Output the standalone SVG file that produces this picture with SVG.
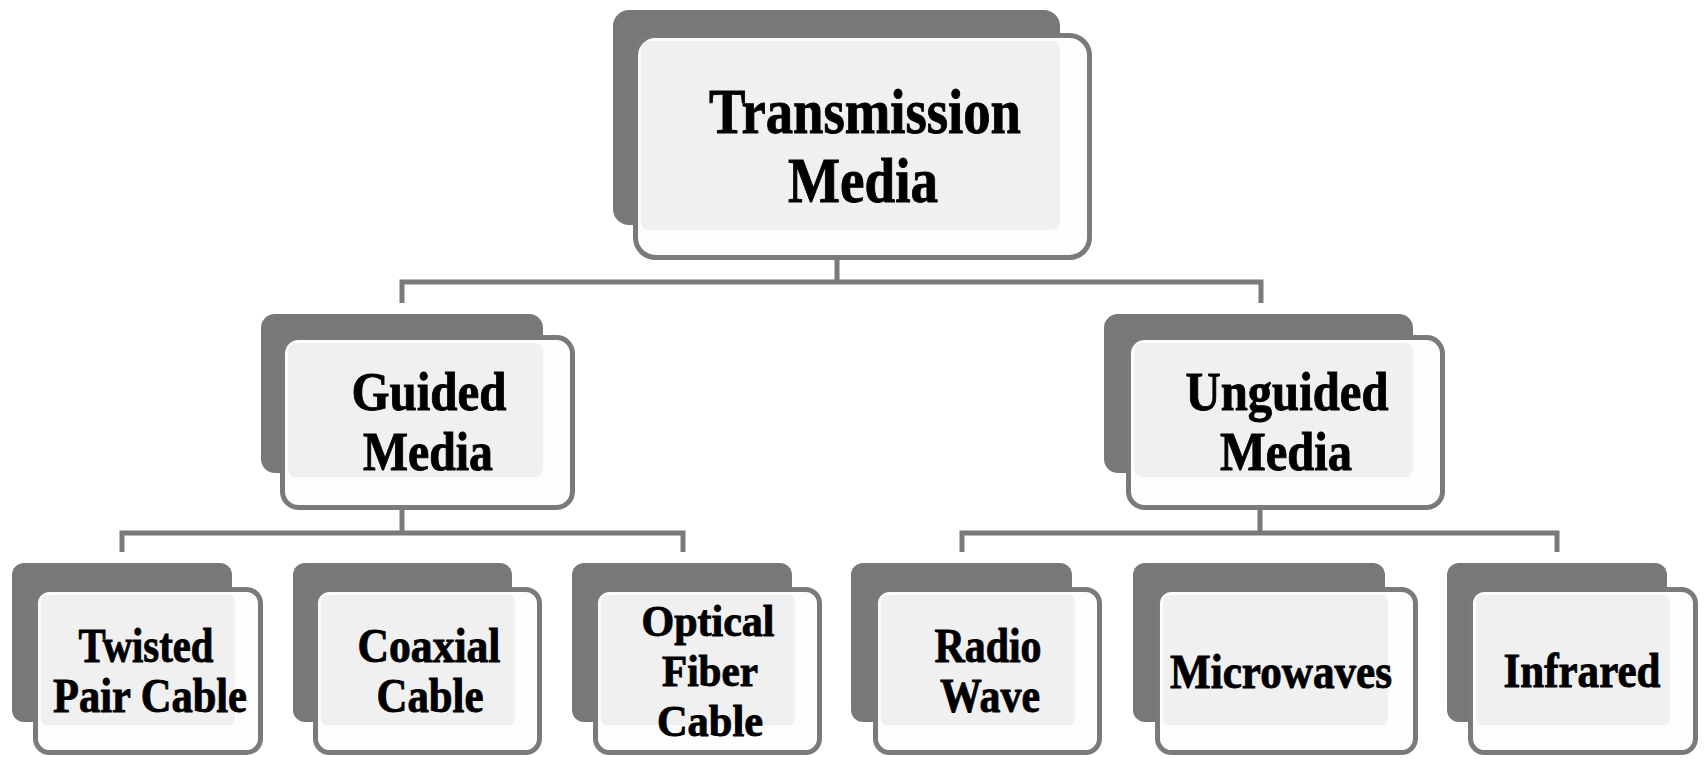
<svg xmlns="http://www.w3.org/2000/svg" width="1704" height="759" viewBox="0 0 1704 759">
<style>
.shadow{fill:#787878}
.front{fill:#fdfdfd;stroke:#7a7a7a;stroke-width:5}
.inner{fill:#f0f0f0}
.conn{fill:none;stroke:#7a7a7a;stroke-width:5}
.lbl{font-family:"Liberation Serif","Times New Roman",serif;font-weight:bold;fill:#000;stroke:#000;stroke-width:0.9;text-anchor:middle}
.l1{font-size:63px}
.l2{font-size:54px}
.l3{font-size:49px}
.l4{font-size:44px}
</style>
<rect width="1704" height="759" fill="#ffffff"/>
<g id="connectors">
<path class="conn" d="M837 259 V282 M402 303 V282 H1261 V303"/>
<path class="conn" d="M402 509 V533 M122 552 V533 H683 V552"/>
<path class="conn" d="M1260 509 V533 M962 552 V533 H1557 V552"/>
</g>
<g id="transmission-media">
<rect class="shadow" x="613" y="10" width="447" height="215" rx="16"/>
<rect class="front" x="635.5" y="35.5" width="454" height="222" rx="20"/>
<rect class="inner" x="641" y="41" width="419" height="189" rx="8"/>
<text class="lbl l1" x="865" y="133" textLength="312" lengthAdjust="spacingAndGlyphs">Transmission</text>
<text class="lbl l1" x="863" y="202" textLength="150" lengthAdjust="spacingAndGlyphs">Media</text>
</g>
<g id="guided-media">
<rect class="shadow" x="261" y="314" width="282" height="159" rx="14"/>
<rect class="front" x="282.5" y="337.5" width="290" height="170" rx="16"/>
<rect class="inner" x="288" y="343" width="255" height="134" rx="8"/>
<text class="lbl l2" x="429" y="410" textLength="155" lengthAdjust="spacingAndGlyphs">Guided</text>
<text class="lbl l2" x="428" y="470" textLength="130" lengthAdjust="spacingAndGlyphs">Media</text>
</g>
<g id="unguided-media">
<rect class="shadow" x="1104" y="314" width="309" height="159" rx="14"/>
<rect class="front" x="1128.5" y="337.5" width="314" height="170" rx="16"/>
<rect class="inner" x="1134" y="343" width="279" height="134" rx="8"/>
<text class="lbl l2" x="1287" y="410" textLength="203" lengthAdjust="spacingAndGlyphs">Unguided</text>
<text class="lbl l2" x="1286" y="470" textLength="132" lengthAdjust="spacingAndGlyphs">Media</text>
</g>
<g id="twisted-pair-cable">
<rect class="shadow" x="12" y="563" width="220" height="159" rx="12"/>
<rect class="front" x="35.5" y="589.5" width="225" height="163" rx="14"/>
<rect class="inner" x="41" y="595" width="194" height="130" rx="6"/>
<text class="lbl l3" x="146" y="662" textLength="135" lengthAdjust="spacingAndGlyphs">Twisted</text>
<text class="lbl l3" x="150" y="712" textLength="194" lengthAdjust="spacingAndGlyphs">Pair Cable</text>
</g>
<g id="coaxial-cable">
<rect class="shadow" x="293" y="563" width="219" height="159" rx="12"/>
<rect class="front" x="315.5" y="589.5" width="224" height="163" rx="14"/>
<rect class="inner" x="321" y="595" width="194" height="130" rx="6"/>
<text class="lbl l3" x="429" y="662" textLength="143" lengthAdjust="spacingAndGlyphs">Coaxial</text>
<text class="lbl l3" x="430" y="712" textLength="107" lengthAdjust="spacingAndGlyphs">Cable</text>
</g>
<g id="optical-fiber-cable">
<rect class="shadow" x="572" y="563" width="220" height="159" rx="12"/>
<rect class="front" x="595.5" y="589.5" width="224" height="163" rx="14"/>
<rect class="inner" x="601" y="595" width="194" height="130" rx="6"/>
<text class="lbl l4" x="708" y="636" textLength="133" lengthAdjust="spacingAndGlyphs">Optical</text>
<text class="lbl l4" x="710" y="686" textLength="96" lengthAdjust="spacingAndGlyphs">Fiber</text>
<text class="lbl l4" x="710" y="736" textLength="106" lengthAdjust="spacingAndGlyphs">Cable</text>
</g>
<g id="radio-wave">
<rect class="shadow" x="851" y="563" width="221" height="159" rx="12"/>
<rect class="front" x="875.5" y="589.5" width="224" height="163" rx="14"/>
<rect class="inner" x="881" y="595" width="194" height="130" rx="6"/>
<text class="lbl l3" x="988" y="662" textLength="107" lengthAdjust="spacingAndGlyphs">Radio</text>
<text class="lbl l3" x="990" y="712" textLength="100" lengthAdjust="spacingAndGlyphs">Wave</text>
</g>
<g id="microwaves">
<rect class="shadow" x="1133" y="563" width="252" height="159" rx="12"/>
<rect class="front" x="1157.5" y="589.5" width="258" height="163" rx="14"/>
<rect class="inner" x="1163" y="595" width="225" height="130" rx="6"/>
<text class="lbl l3" x="1281" y="688" textLength="222" lengthAdjust="spacingAndGlyphs">Microwaves</text>
</g>
<g id="infrared">
<rect class="shadow" x="1447" y="563" width="220" height="159" rx="12"/>
<rect class="front" x="1470.5" y="589.5" width="225" height="163" rx="14"/>
<rect class="inner" x="1476" y="595" width="194" height="130" rx="6"/>
<text class="lbl l3" x="1582" y="687" textLength="157" lengthAdjust="spacingAndGlyphs">Infrared</text>
</g>
</svg>
